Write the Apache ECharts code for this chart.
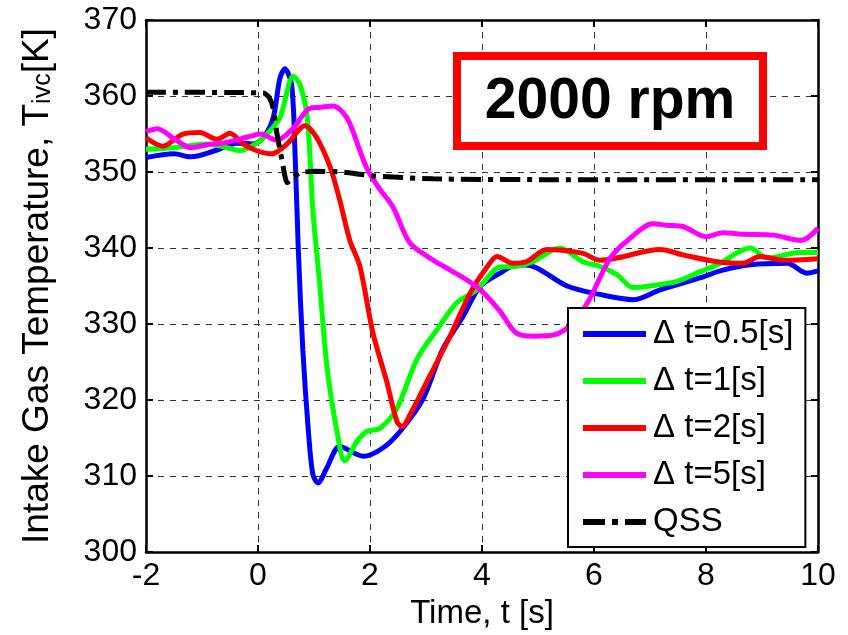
<!DOCTYPE html>
<html>
<head>
<meta charset="utf-8">
<script src="https://cdn.jsdelivr.net/npm/echarts@6/dist/echarts.min.js"></script>
<style>html,body{margin:0;padding:0;background:#fff}#c{width:848px;height:635px}</style>
</head>
<body>
<div id="c"></div>
<script>
// ---- data ----
const seriesNames = ['\u0394 t=0.5[s]', '\u0394 t=1[s]', '\u0394 t=2[s]', '\u0394 t=5[s]', 'QSS'];
const xTicks = [-2, 0, 2, 4, 6, 8, 10];
const yTicks = [300, 310, 320, 330, 340, 350, 360, 370];
const titleText = '2000 rpm';

const blueT = [-2, -1.5, -1.2, -0.73, -0.38, -0.09, 0.09, 0.27, 0.39, 0.48, 0.6, 0.66, 0.72, 0.8, 0.9, 0.98, 1.07, 1.23, 1.46, 1.88, 2.23, 2.54, 2.95, 3.3, 3.66, 3.96, 4.32, 4.62, 4.91, 5.52, 6.1, 6.7, 7.18, 7.9, 8.3, 8.79, 9.45, 9.8, 10];
const blueV = [351.9, 352.4, 352, 352.9, 353.8, 353.7, 354.5, 357.1, 362.3, 363.6, 361.5, 352.8, 339.8, 326.7, 315.9, 310.2, 309.1, 311.1, 313.9, 312.6, 313.7, 315.9, 320.2, 326.7, 331, 334.9, 336.7, 337.8, 337.6, 335, 333.9, 333.2, 334.5, 336.1, 337.1, 337.8, 338, 336.7, 337];

const greenT = [-2, -1.5, -0.91, -0.55, -0.32, -0.02, 0.16, 0.39, 0.63, 0.75, 0.88, 0.98, 1.1, 1.23, 1.41, 1.55, 1.77, 1.95, 2.18, 2.48, 2.84, 3.2, 3.55, 3.91, 4.32, 4.62, 4.91, 5.39, 5.8, 6.1, 6.41, 6.7, 7.18, 7.48, 7.9, 8.2, 8.79, 9.09, 9.68, 10];
const greenV = [353, 353.2, 353.7, 353.2, 352.8, 353.8, 355, 357.1, 362.6, 361.5, 357.1, 345, 335.4, 324.5, 315.9, 312, 314.6, 315.9, 316.3, 318.9, 325.4, 329.3, 332.8, 334.5, 337.5, 337.6, 338.2, 340, 338.2, 337.6, 336.5, 334.8, 335.2, 335.6, 336.9, 337.8, 340, 338.7, 339.4, 339.4];

const redT = [-2, -1.7, -1.34, -1.04, -0.73, -0.5, -0.27, -0.02, 0.25, 0.52, 0.84, 1.05, 1.29, 1.46, 1.64, 1.82, 2.05, 2.3, 2.48, 2.57, 2.71, 3.07, 3.43, 3.79, 4.09, 4.27, 4.55, 4.79, 5.16, 5.8, 6.1, 6.41, 7.18, 7.59, 8.2, 8.66, 8.96, 9.38, 10];
const redV = [354.5, 353.4, 355, 355.2, 354.3, 355.1, 353.7, 352.8, 352.4, 353.7, 356.1, 354.5, 350.6, 346.3, 341, 337.6, 328.9, 322.4, 317.2, 316.5, 318, 323.2, 328.4, 334.1, 337.5, 338.9, 338, 338.2, 339.8, 339.3, 338.4, 338.7, 339.8, 339.1, 338.2, 338, 338.9, 338.4, 338.6];

const magT = [-2, -1.8, -1.5, -1.2, -0.9, -0.62, -0.14, 0.04, 0.34, 0.63, 0.93, 1.1, 1.34, 1.59, 1.82, 1.95, 2.15, 2.41, 2.71, 3.13, 3.43, 3.73, 4.0, 4.32, 4.6, 4.91, 5.3, 5.6, 5.9, 6.1, 6.3, 6.6, 7.05, 7.3, 7.6, 8.0, 8.3, 8.7, 9.2, 9.7, 10];
const magV = [355.3, 355.7, 354.4, 353.2, 353.6, 353.8, 354.7, 355, 354.2, 355.8, 358.4, 358.5, 358.7, 357.1, 352.8, 350.4, 348, 345.4, 340.7, 338.4, 337.1, 335.8, 334.3, 331.7, 328.9, 328.4, 328.6, 330, 333, 336, 338.8, 341, 343.2, 343, 342.8, 341.5, 342, 341.8, 341.7, 341, 342.6];

const qssT = [-2, 0.1, 0.2, 0.27, 0.34, 0.43, 0.52, 0.62, 0.75, 1.0, 1.5, 2.05, 3.13, 5, 7, 10];
const qssV = [360.5, 360.4, 359.8, 358.4, 355, 351.5, 348.6, 349.2, 349.9, 350.1, 350, 349.5, 349.1, 349, 349, 349];

const colors = ['#0000FF', '#00FF00', '#FF0000', '#FF00FF', '#000000'];

function pairs(t, v) { return t.map((x, i) => [x, v[i]]); }

const FONT = "'Liberation Sans', Arial, sans-serif";
const chart = echarts.init(document.getElementById('c'), null, { renderer: 'canvas' });

const baseAxis = {
  axisLine: { show: true, onZero: false, lineStyle: { color: '#000', width: 2.5 } },
  axisTick: { show: true, inside: true, length: 7, lineStyle: { color: '#000', width: 2 } },
};

const allSeries = [
  [blueT, blueV], [greenT, greenV], [redT, redV], [magT, magV], [qssT, qssV]
].map((d, i) => ({
  name: seriesNames[i],
  type: 'line',
  data: pairs(d[0], d[1]),
  showSymbol: false,
  symbol: 'none',
  smooth: i === 4 ? 0.2 : 0.3,
  color: colors[i],
  lineStyle: i === 4
    ? { color: '#000', width: 5, type: [20, 7, 5, 7] }
    : { color: colors[i], width: 5 },
  z: 2 + i,
  animation: false
}));

const lineIcon = 'path://M0,0H63V6H0Z';
const dashDotIcon = 'path://M0,0H22V6H0Z M29,0H35V6H29Z M42,0H63V6H42Z';

chart.setOption({
  animation: false,
  backgroundColor: '#fff',
  grid: { left: 146, right: 30, top: 20, bottom: 79, containLabel: false },
  xAxis: [
    Object.assign({}, baseAxis, {
      type: 'value', min: xTicks[0], max: xTicks[xTicks.length - 1], interval: 2,
      position: 'bottom',
      axisLabel: { color: '#000', fontSize: 32, fontFamily: FONT, margin: 8 },
      splitLine: { show: true, lineStyle: { color: '#333', width: 1, type: [6, 6] } },
      name: 'Time, t [s]', nameLocation: 'middle', nameGap: 44,
      nameTextStyle: { color: '#000', fontSize: 33, fontFamily: FONT }
    }),
    Object.assign({}, baseAxis, {
      type: 'value', min: xTicks[0], max: xTicks[xTicks.length - 1], interval: 2,
      position: 'top', axisLabel: { show: false }, splitLine: { show: false }
    })
  ],
  yAxis: [
    Object.assign({}, baseAxis, {
      type: 'value', min: yTicks[0], max: yTicks[yTicks.length - 1], interval: 10,
      position: 'left',
      axisLabel: { color: '#000', fontSize: 32, fontFamily: FONT, margin: 9 },
      splitLine: { show: true, lineStyle: { color: '#333', width: 1, type: [6, 6] } },
      name: '{a|Intake Gas Temperature, T}{b|ivc}{a|[K]}',
      nameLocation: 'middle', nameGap: 90, nameRotate: 90,
      nameTextStyle: {
        color: '#000', fontFamily: FONT,
        rich: {
          a: { fontSize: 37, fontFamily: FONT, color: '#000', lineHeight: 42, verticalAlign: 'bottom' },
          b: { fontSize: 25, fontFamily: FONT, color: '#000', lineHeight: 25, verticalAlign: 'bottom', padding: [14, 0, 0, 0] }
        }
      }
    }),
    Object.assign({}, baseAxis, {
      type: 'value', min: yTicks[0], max: yTicks[yTicks.length - 1], interval: 10,
      position: 'right', axisLabel: { show: false }, splitLine: { show: false }
    })
  ],
  legend: {
    data: seriesNames.map((n, i) => ({ name: n, icon: i === 4 ? dashDotIcon : lineIcon })),
    orient: 'vertical',
    left: 568, top: 308,
    padding: [8, 12, 7, 15],
    itemWidth: 63, itemHeight: 6, itemGap: 11,
    symbolKeepAspect: false,
    backgroundColor: '#fff',
    borderColor: '#000', borderWidth: 2,
    textStyle: { color: '#000', fontSize: 33, fontFamily: FONT, lineHeight: 36, padding: [0, 0, 0, 2] },
    selectedMode: false,
    z: 20
  },
  graphic: [
    {
      type: 'rect', z: 30,
      shape: { x: 457, y: 56, width: 306, height: 90 },
      style: { fill: '#fff', stroke: '#FF0000', lineWidth: 8 }
    },
    {
      type: 'text', z: 31,
      x: 610, y: 102,
      style: { text: titleText, fill: '#000', font: "bold 57px 'Liberation Sans', Arial, sans-serif", textAlign: 'center', textVerticalAlign: 'middle' }
    }
  ],
  series: allSeries
});
</script>
</body>
</html>
